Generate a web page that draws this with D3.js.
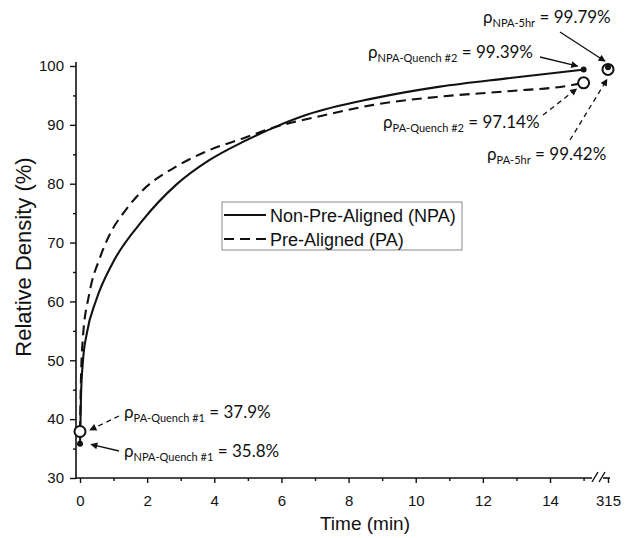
<!DOCTYPE html>
<html>
<head>
<meta charset="utf-8">
<script src="https://cdn.jsdelivr.net/npm/d3@7"></script>
<style>
  html, body { margin: 0; padding: 0; background: #fff; }
  svg { display: block; }
</style>
</head>
<body>
<svg id="chart" width="632" height="538"></svg>
<script>
// Densification curves (time in minutes, relative density in %)
const timeNPA = [0, 0.03, 0.09, 0.2, 0.48, 0.97, 1.87, 2.86, 3.85, 4.85, 5.84, 6.75, 8.74, 10.72, 12.71, 15];
const densNPA = [35.8, 44, 50, 54.5, 60.2, 66.5, 73.8, 79.8, 84.0, 87.1, 89.7, 91.7, 94.5, 96.5, 97.9, 99.39];
const timePA = [0, 0.03, 0.08, 0.28, 0.58, 0.87, 1.37, 1.87, 2.86, 3.85, 4.85, 5.75, 7.24, 8.74, 10.72, 12.71, 14.7, 15];
const densPA = [37.9, 47, 53.4, 61.4, 67.2, 71.2, 75.6, 78.9, 82.9, 85.7, 87.7, 89.5, 91.6, 93.4, 94.8, 95.7, 96.8, 97.14];

// Measured points: quench #1, quench #2 and after 5 hours (315 min)
const pointNames = ["Quench #1", "Quench #2", "5hr"];
const pointTimes = [0, 15, 315];
const pointNPA = [35.8, 99.39, 99.79];
const pointPA = [37.9, 97.14, 99.42];

// Axis ticks
const xMajorTicks = [0, 2, 4, 6, 8, 10, 12, 14, 315];
const xMinorTicks = [1, 3, 5, 7, 9, 11, 13, 15];
const yMajorTicks = [30, 40, 50, 60, 70, 80, 90, 100];
const yMinorTicks = [35, 45, 55, 65, 75, 85, 95];

const seriesNames = ["Non-Pre-Aligned (NPA)", "Pre-Aligned (PA)"];

const svg = d3.select("#chart");
const axisFont = "'Liberation Sans', Arial, sans-serif";
const noteFont = "Lato, 'Open Sans', sans-serif";

// Broken time axis: 0–15 min linear, then a short jump to 315 min
const x = d3.scaleLinear().domain([0, 15, 315]).range([80, 583.6, 608]);
const y = d3.scaleLinear().domain([30, 100]).range([478, 66]);

const x0 = 76, yBase = y(30);

// ---- axes ----
const gx = svg.append("g").attr("transform", `translate(0,${yBase})`);
gx.call(d3.axisBottom(x).tickValues(xMajorTicks).tickSize(5).tickPadding(12).tickFormat(d3.format("d")))
  .call(g => g.select(".domain").remove())
  .call(g => g.selectAll("text").attr("font-family", axisFont).attr("font-size", 15).attr("fill", "#111"))
  .call(g => g.selectAll("line").attr("stroke", "#111").attr("stroke-width", 1.4));
const gxm = svg.append("g").attr("transform", `translate(0,${yBase})`);
gxm.call(d3.axisBottom(x).tickValues(xMinorTicks).tickSize(3).tickFormat(""))
  .call(g => g.select(".domain").remove())
  .call(g => g.selectAll("line").attr("stroke", "#111").attr("stroke-width", 1.4));

// x axis line with break marks
const xEnd = x(315);
svg.append("line").attr("x1", x0).attr("x2", xEnd - 16).attr("y1", yBase).attr("y2", yBase)
  .attr("stroke", "#111").attr("stroke-width", 1.6);
[xEnd - 16, xEnd - 9].forEach(bx => {
  svg.append("line").attr("x1", bx).attr("y1", yBase + 4).attr("x2", bx + 6).attr("y2", yBase - 6)
    .attr("stroke", "#111").attr("stroke-width", 1.4);
});
svg.append("line").attr("x1", xEnd - 5).attr("x2", xEnd + 2).attr("y1", yBase).attr("y2", yBase)
  .attr("stroke", "#111").attr("stroke-width", 1.6);

const gy = svg.append("g").attr("transform", `translate(${x0},0)`);
gy.call(d3.axisLeft(y).tickValues(yMajorTicks).tickSize(6).tickPadding(6))
  .call(g => g.select(".domain").remove())
  .call(g => g.selectAll("text").attr("font-family", axisFont).attr("font-size", 15).attr("fill", "#111"))
  .call(g => g.selectAll("line").attr("stroke", "#111").attr("stroke-width", 1.4));
const gym = svg.append("g").attr("transform", `translate(${x0},0)`);
gym.call(d3.axisLeft(y).tickValues(yMinorTicks).tickSize(3).tickFormat(""))
  .call(g => g.select(".domain").remove())
  .call(g => g.selectAll("line").attr("stroke", "#111").attr("stroke-width", 1.4));
svg.append("line").attr("x1", x0).attr("x2", x0).attr("y1", yBase + 0.8).attr("y2", y(100.7))
  .attr("stroke", "#111").attr("stroke-width", 1.6);

// axis titles
svg.append("text").attr("x", 365).attr("y", 530).attr("text-anchor", "middle")
  .attr("font-family", axisFont).attr("font-size", 19).attr("fill", "#111").text("Time (min)");
svg.append("text").attr("transform", `translate(31,${(y(30) + y(100)) / 2 - 15}) rotate(-90)`)
  .attr("text-anchor", "middle").attr("font-family", axisFont).attr("font-size", 22).attr("fill", "#111")
  .text("Relative Density (%)");

// ---- curves ----
const line = d3.line().x(d => x(d[0])).y(d => y(d[1])).curve(d3.curveMonotoneX);
const npaData = timeNPA.map((t, i) => [t, densNPA[i]]);
const paData = timePA.map((t, i) => [t, densPA[i]]);

svg.append("path").attr("d", line(paData)).attr("fill", "none").attr("stroke", "#111")
  .attr("stroke-width", 2.1).attr("stroke-dasharray", "10,6");
svg.append("path").attr("d", line(npaData)).attr("fill", "none").attr("stroke", "#111")
  .attr("stroke-width", 2.1);

// ---- measured points ----
svg.append("g").selectAll("circle").data(pointTimes).join("circle")
  .attr("cx", d => x(d)).attr("cy", (d, i) => y(pointPA[i])).attr("r", 5.5)
  .attr("fill", "#fff").attr("stroke", "#111").attr("stroke-width", 2);
svg.append("g").selectAll("circle").data(pointTimes).join("circle")
  .attr("cx", d => x(d)).attr("cy", (d, i) => y(pointNPA[i])).attr("r", 3)
  .attr("fill", "#111");

// ---- annotations ----
const defs = svg.append("defs");
defs.append("marker").attr("id", "head").attr("viewBox", "0 0 10 10").attr("refX", 9).attr("refY", 5)
  .attr("markerWidth", 8).attr("markerHeight", 7).attr("markerUnits", "userSpaceOnUse").attr("orient", "auto")
  .append("path").attr("d", "M0,0 L10,5 L0,10 Z").attr("fill", "#111");

// label placement, arrow tail and arrow-head offset from the point
const notes = [
  { series: "NPA", idx: 0, tx: 124, ty: 457, tail: [119, 451], off: [11, 0.5] },
  { series: "PA",  idx: 0, tx: 124, ty: 418, tail: [119, 416], off: [10, -1.5] },
  { series: "NPA", idx: 1, tx: 368, ty: 58,  tail: [540, 57],  off: [-6, -3.5] },
  { series: "PA",  idx: 1, tx: 383, ty: 128, tail: [543, 115], off: [-7, 6] },
  { series: "NPA", idx: 2, tx: 483, ty: 23,  tail: [560, 32],  off: [-3, -6] },
  { series: "PA",  idx: 2, tx: 487, ty: 160, tail: [570, 140], off: [-1, 10] }
];

notes.forEach(n => {
  const val = n.series === "NPA" ? pointNPA[n.idx] : pointPA[n.idx];
  const px = x(pointTimes[n.idx]), py = y(val);
  svg.append("line").attr("x1", n.tail[0]).attr("y1", n.tail[1])
    .attr("x2", px + n.off[0]).attr("y2", py + n.off[1])
    .attr("stroke", "#111").attr("stroke-width", 1.3)
    .attr("stroke-dasharray", n.series === "PA" ? "5,4" : null)
    .attr("marker-end", "url(#head)");
  const t = svg.append("text").attr("x", n.tx).attr("y", n.ty)
    .attr("font-family", noteFont).attr("font-size", 17).attr("fill", "#111");
  t.append("tspan").text("ρ");
  t.append("tspan").attr("font-size", 11).attr("dy", 4).text(`${n.series}-${pointNames[n.idx]}`);
  t.append("tspan").attr("dy", -4).text(` = ${val}%`);
});

// ---- legend ----
const lg = svg.append("g").attr("transform", "translate(222,202)");
lg.append("rect").attr("width", 240).attr("height", 48).attr("fill", "#fff")
  .attr("stroke", "#8a8a8a").attr("stroke-width", 1);
seriesNames.forEach((name, i) => {
  const ly = 13 + i * 24;
  lg.append("line").attr("x1", 2).attr("x2", 44).attr("y1", ly).attr("y2", ly)
    .attr("stroke", "#111").attr("stroke-width", 2.1)
    .attr("stroke-dasharray", i === 1 ? "10,6" : null);
  lg.append("text").attr("x", 48).attr("y", ly + 6.5).attr("font-family", axisFont)
    .attr("font-size", 18).attr("fill", "#111").text(name);
});
</script>
</body>
</html>
